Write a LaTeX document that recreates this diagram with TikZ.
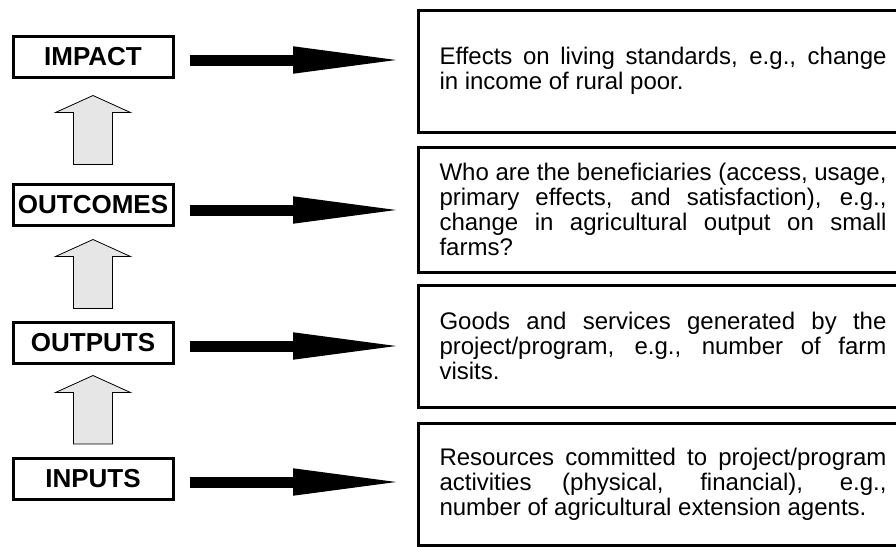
\documentclass[tikz,border=0pt]{standalone}
\usepackage{fontspec}
\setmainfont{Liberation Sans}
\usetikzlibrary{arrows.meta,calc}
\definecolor{liftgray}{HTML}{E6E6E6}
\hyphenpenalty=10000
\exhyphenpenalty=10000

% hollow upward block arrow between two level boxes:
% #1 lower node, #2 upper node, #3 gap below upper node, #4 gap above lower node
\newcommand\liftarrow[4]{%
  \coordinate (tip) at ($(#2.south)+(0,#3)$);
  \coordinate (foot) at ($(#1.north)+(0,-#4)$);
  \draw[lift] (tip) -- ($(tip)+(37.5,17)$) -- ($(tip)+(19.5,17)$)
    -- ($(foot)+(19.5,0)$) -- ($(foot)+(-19.5,0)$)
    -- ($(tip)+(-19.5,17)$) -- ($(tip)+(-37.5,17)$) -- cycle;
}

\begin{document}
\begin{tikzpicture}[x=1pt,y=-1pt,
  level/.style={draw, line width=3pt, minimum width=160pt, minimum height=41pt,
    inner sep=0pt, font=\fontsize{26}{28}\selectfont\bfseries},
  desc/.style={draw, line width=3pt, anchor=west, text width=447pt,
    inner xsep=21pt, inner ysep=4pt, align=justify,
    font=\fontsize{24}{25}\selectfont},
  push/.style={line width=11pt, -{Triangle[length=114pt,width=24pt]}},
  lift/.style={draw=black, line width=0.8pt, fill=liftgray, line join=miter}
]
\path[use as bounding box, clip] (0,0) rectangle (896,546);

% level boxes
\node[level] (impact)   at (93,56.5)  {IMPACT};
\node[level] (outcomes) at (93,204.5) {OUTCOMES};
\node[level] (outputs)  at (93,342.5) {OUTPUTS};
\node[level] (inputs)   at (93,479)   {INPUTS};

% description boxes (open to the right)
\node[desc, minimum height=122pt] (d1) at (417,71)
  {Effects on living standards, e.g., change\linebreak in income of rural poor.};
\node[desc, minimum height=125pt] (d2) at (417,209.5)
  {Who are the beneficiaries (access, usage,\linebreak primary effects, and satisfaction), e.g.,\linebreak change in agricultural output on small\linebreak farms?};
\node[desc, minimum height=122pt] (d3) at (417,346)
  {Goods and services generated by the\linebreak project/program, e.g., number of farm\linebreak visits.};
\node[desc, minimum height=122pt] (d4) at (417,484)
  {Resources committed to project/program\linebreak activities (physical, financial), e.g.,\linebreak number of agricultural extension agents.};

% arrows from each level to its description
\coordinate (s1) at ($(impact.east)+(15,3.5)$);
\coordinate (s2) at ($(outcomes.east)+(15,5.5)$);
\coordinate (s3) at ($(outputs.east)+(15,3.5)$);
\coordinate (s4) at ($(inputs.east)+(15,3)$);
\draw[push] (s1) -- ($(s1 -| d1.west)+(-10,0)$);
\draw[push] (s2) -- ($(s2 -| d2.west)+(-10,0)$);
\draw[push] (s3) -- ($(s3 -| d3.west)+(-10,0)$);
\draw[push] (s4) -- ($(s4 -| d4.west)+(-10,0)$);

% upward arrows between levels
\liftarrow{outcomes}{impact}{17}{18}
\liftarrow{outputs}{outcomes}{13}{12}
\liftarrow{inputs}{outputs}{11}{13}
\end{tikzpicture}
\end{document}
